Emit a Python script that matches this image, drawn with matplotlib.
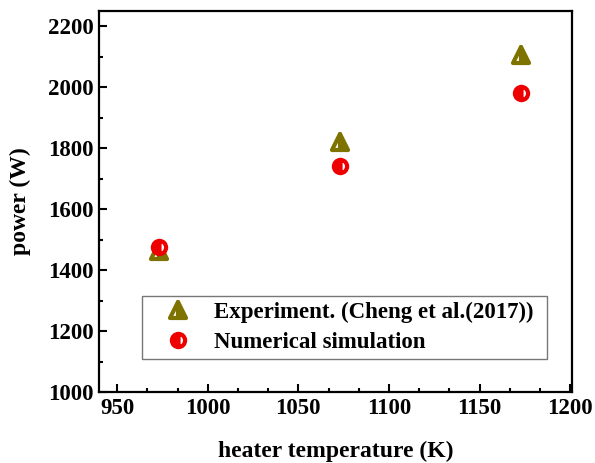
import matplotlib
matplotlib.use("Agg")
import matplotlib.pyplot as plt
from matplotlib.markers import MarkerStyle
from matplotlib.ticker import MultipleLocator, AutoMinorLocator

temps = [973, 1073, 1173]
exp_power = [1462, 1820, 2105]
sim_power = [1476, 1740, 1980]
labels = ["Experiment. (Cheng et al.(2017))", "Numerical simulation"]

plt.rcParams['font.family'] = ['Liberation Serif', 'DejaVu Serif']
plt.rcParams['font.weight'] = 'bold'

fig = plt.figure(figsize=(5.95, 4.63), dpi=100)
ax = fig.add_axes([0.1664, 0.1533, 0.7949, 0.8229])

tri = MarkerStyle('^', fillstyle='right', joinstyle='round')
circ = MarkerStyle('o', fillstyle='left')

ax.plot(temps, exp_power, linestyle='none', marker=tri, markersize=11,
        color='#7f7300', markerfacecolor='#7f7300', markerfacecoloralt='white',
        markeredgecolor='#7f7300', markeredgewidth=3.0,
        label=labels[0], zorder=3)
ax.plot(temps, sim_power, linestyle='none', marker=circ, markersize=9.5,
        color='#ee0000', markerfacecolor='#ee0000', markerfacecoloralt='white',
        markeredgecolor='#ee0000', markeredgewidth=3.0,
        label=labels[1], zorder=4)

ax.set_xlim(940, 1201)
ax.set_ylim(1000, 2250)
ax.xaxis.set_major_locator(MultipleLocator(50))
ax.xaxis.set_minor_locator(AutoMinorLocator(3))
ax.yaxis.set_major_locator(MultipleLocator(200))
ax.yaxis.set_minor_locator(AutoMinorLocator(2))

ax.tick_params(which='major', direction='in', length=6, width=1.5, labelsize=16.5, pad=4)
ax.tick_params(which='minor', direction='in', length=3, width=1.5)
for s in ax.spines.values():
    s.set_linewidth(1.6)
for lab in ax.get_xticklabels() + ax.get_yticklabels():
    lab.set_fontweight('bold')

ax.set_xlabel('heater temperature (K)', fontsize=17, fontweight='bold', labelpad=16)
ax.set_ylabel('power (W)', fontsize=17, fontweight='bold', labelpad=12)

leg = ax.legend(loc='upper left', bbox_to_anchor=(0.091, 0.253, 0.856, 0.0),
                mode='expand', fancybox=False, edgecolor='#777777', framealpha=1,
                prop={'size': 16.5, 'weight': 'bold'}, handletextpad=0.3,
                borderpad=0.25, labelspacing=0.42, handlelength=2.6,
                borderaxespad=0)
leg.get_frame().set_linewidth(1.0)

fig.savefig('out.png', dpi=100)
